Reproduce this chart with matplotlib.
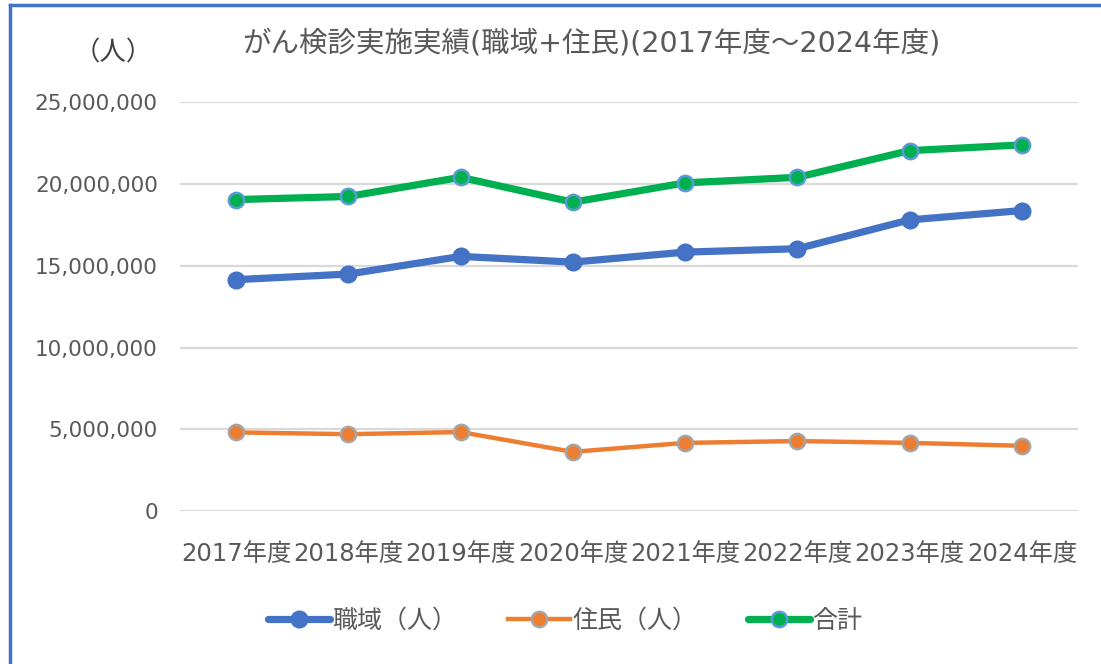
import matplotlib
matplotlib.use("Agg")
import matplotlib.pyplot as plt
from matplotlib.lines import Line2D
from matplotlib.ticker import FuncFormatter

plt.rcParams['font.family'] = ['Noto Sans CJK JP', 'DejaVu Sans']

# data
years = ['2017年度', '2018年度', '2019年度', '2020年度',
         '2021年度', '2022年度', '2023年度', '2024年度']
shokuiki = [14150000, 14490000, 15570000, 15220000, 15830000, 16040000, 17800000, 18370000]
jumin = [4820000, 4710000, 4840000, 3630000, 4180000, 4290000, 4180000, 4000000]
goukei = [19040000, 19230000, 20400000, 18880000, 20060000, 20400000, 22030000, 22380000]
yticks = [0, 5000000, 10000000, 15000000, 20000000, 25000000]

TEXT = '#595959'
MIXED = ['DejaVu Sans', 'Noto Sans CJK JP']  # wide digits, CJK from Noto
W, H = 1101, 664

fig = plt.figure(figsize=(W / 100, H / 100), dpi=100)
ax = fig.add_axes([180 / W, 1 - 511.3 / H, 898 / W, (511.3 - 102) / H])

x = list(range(len(years)))
ax.plot(x, shokuiki, color='#4472C4', lw=5.2, marker='o', ms=11.5,
        mfc='#4472C4', mec='#4472C4', mew=1.5, label='職域（人）',
        solid_capstyle='round', zorder=3)
ax.plot(x, jumin, color='#ED7D31', lw=3.2, marker='o', ms=11,
        mfc='#ED7D31', mec='#A5A5A5', mew=1.8, label='住民（人）', zorder=3)
ax.plot(x, goukei, color='#00B050', lw=5.2, marker='o', ms=11,
        mfc='#00B050', mec='#5B9BD5', mew=1.8, label='合計',
        solid_capstyle='round', zorder=3)

ax.set_xlim(-0.5, len(years) - 0.5)
ax.set_ylim(0, 25000000)
ax.set_yticks(yticks)
ax.yaxis.set_major_formatter(FuncFormatter(lambda v, p: f'{int(v):,}'))
ax.set_xticks(x)
ax.set_xticklabels(years)
ax.grid(axis='y', color='#D9D9D9', lw=1.6, zorder=0)
ax.set_axisbelow(True)
for s in ax.spines.values():
    s.set_visible(False)
ax.tick_params(axis='both', length=0, colors=TEXT)
ax.tick_params(axis='y', pad=16)
ax.tick_params(axis='x', pad=22)
for lab in ax.get_yticklabels():
    lab.set_family('DejaVu Sans')
    lab.set_fontsize(15.5)
for lab in ax.get_xticklabels():
    lab.set_family(MIXED)
    lab.set_fontsize(17.5)

fig.text(591 / W, 1 - 44 / H,
         'がん検診実施実績(職域+住民)(2017年度～2024年度)',
         ha='center', va='center', fontsize=20.5, color=TEXT, family=MIXED)
fig.text(113 / W, 1 - 53 / H, '（人）', ha='center', va='center',
         fontsize=19, color='#404040')

fig.legend(loc='center', bbox_to_anchor=(565 / W, 1 - 621 / H), ncol=3,
           frameon=False, fontsize=18, handlelength=2.5, handletextpad=0.1,
           columnspacing=2.0, labelcolor=TEXT)

# blue frame on top and left edge
fig.add_artist(Line2D([9.5 / W, 1], [1 - 4.5 / H, 1 - 4.5 / H],
                      transform=fig.transFigure, color='#4472C4', lw=2.5))
fig.add_artist(Line2D([9.5 / W, 9.5 / W], [0, 1 - 4.5 / H],
                      transform=fig.transFigure, color='#4472C4', lw=2.5))

fig.savefig('out.png', dpi=100)
